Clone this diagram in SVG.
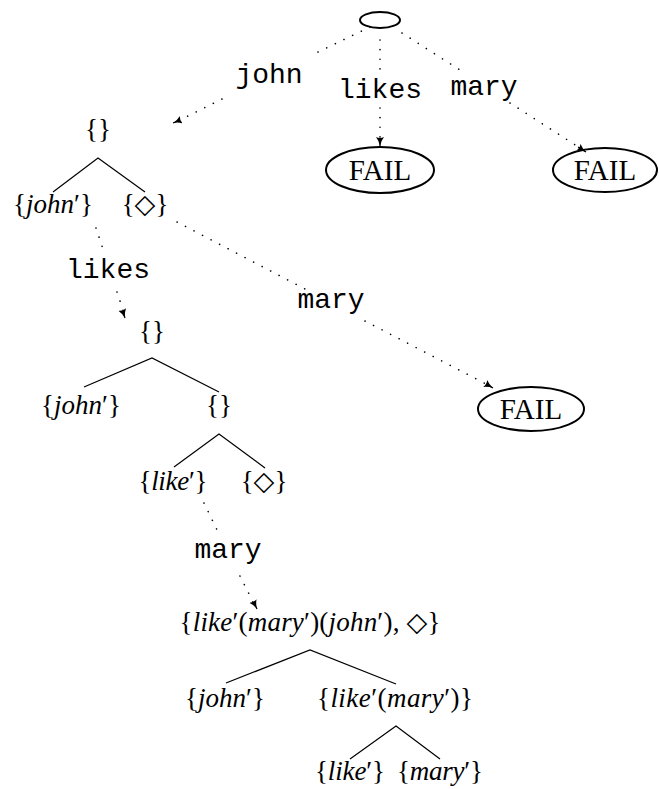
<svg xmlns="http://www.w3.org/2000/svg" width="659" height="789" viewBox="0 0 659 789">
<style>
.m{font-family:"Liberation Serif","DejaVu Serif",serif;font-size:27px;text-anchor:middle;fill:#000}
.i{font-style:italic}
.t{font-family:"Liberation Mono","DejaVu Sans Mono",monospace;font-size:28px;text-anchor:middle;fill:#000}
.f{font-family:"Liberation Serif",serif;font-size:29px;text-anchor:middle;fill:#000}
.e{fill:none;stroke:#000;stroke-width:2}
.s{fill:none;stroke:#000;stroke-width:1.2}
.d{fill:none;stroke:#000;stroke-width:1.6;stroke-dasharray:0.1 9.5;stroke-linecap:round}
.a{stroke:#000;stroke-width:1.2;marker-end:url(#ah)}
</style>
<defs>
<marker id="ah" markerWidth="12" markerHeight="10" refX="9" refY="4" orient="auto" markerUnits="userSpaceOnUse">
<path d="M0,0 Q4,3 9,4 Q4,5 0,8 Q2,4 0,0 Z" fill="#000"/>
</marker>
</defs>
<g id="connectors">
<path class="d" d="M370,27 L316,53"/>
<path class="d" d="M222,99 L180,120"/>
<line class="a" x1="178" y1="121" x2="173" y2="123"/>
<path class="d" d="M380,40 L380,72"/>
<path class="d" d="M380,108 L380,140"/>
<line class="a" x1="380" y1="140" x2="380" y2="146"/>
<path class="d" d="M402,33 L460,70"/>
<path class="d" d="M510,103 L580,148"/>
<line class="a" x1="578" y1="147" x2="586" y2="152"/>
<path class="s" d="M53,192 L98,158 L145,192"/>
<path class="d" d="M96,228 L104,252"/>
<path class="d" d="M117,292 L124,313"/>
<line class="a" x1="123" y1="312" x2="125" y2="318"/>
<path class="d" d="M177,222 L305,289"/>
<path class="d" d="M365,321 L486,384"/>
<line class="a" x1="486" y1="384" x2="493" y2="388"/>
<path class="s" d="M84,387 L152,358 L219,392"/>
<path class="s" d="M174,467 L219,434 L265,468"/>
<path class="d" d="M204,503 L218,532"/>
<path class="d" d="M240,576 L253,602"/>
<line class="a" x1="254" y1="603" x2="257" y2="609"/>
<path class="s" d="M226,683 L310,650 L396,684"/>
<path class="s" d="M350,759 L396,726 L440,759"/>
</g>
<g id="root"><ellipse class="e" cx="380" cy="20" rx="20" ry="8"/></g>
<g id="lbl-john"><text class="t" x="269" y="83">john</text></g>
<g id="lbl-likes1"><text class="t" x="380" y="98">likes</text></g>
<g id="lbl-mary1"><text class="t" x="484" y="95">mary</text></g>
<g id="fail1"><ellipse class="e" cx="380" cy="170" rx="54" ry="23"/><text class="f" x="380" y="180">FAIL</text></g>
<g id="fail2"><ellipse class="e" cx="605" cy="170" rx="52" ry="22"/><text class="f" x="605" y="180">FAIL</text></g>
<g id="n1"><text class="m" x="98" y="138">{}</text></g>
<g id="n1a"><text class="m" x="53" y="213" textLength="80">{<tspan class="i">john</tspan>′}</text></g>
<g id="n1b"><text class="m" x="145" y="213">{◇}</text></g>
<g id="lbl-likes2"><text class="t" x="108" y="278">likes</text></g>
<g id="lbl-mary2"><text class="t" x="331" y="308">mary</text></g>
<g id="fail3"><ellipse class="e" cx="531" cy="409" rx="53" ry="22"/><text class="f" x="531" y="419">FAIL</text></g>
<g id="n2"><text class="m" x="152" y="340">{}</text></g>
<g id="n2a"><text class="m" x="81" y="414" textLength="80">{<tspan class="i">john</tspan>′}</text></g>
<g id="n2b"><text class="m" x="219" y="414">{}</text></g>
<g id="n3a"><text class="m" x="173" y="490" textLength="69">{<tspan class="i">like</tspan>′}</text></g>
<g id="n3b"><text class="m" x="264" y="490">{◇}</text></g>
<g id="lbl-mary3"><text class="t" x="228" y="558">mary</text></g>
<g id="n4"><text class="m" x="310" y="631" textLength="261">{<tspan class="i">like</tspan>′(<tspan class="i">mary</tspan>′)(<tspan class="i">john</tspan>′), ◇}</text></g>
<g id="n4a"><text class="m" x="225" y="707" textLength="80">{<tspan class="i">john</tspan>′}</text></g>
<g id="n4b"><text class="m" x="395" y="707" textLength="156">{<tspan class="i">like</tspan>′(<tspan class="i">mary</tspan>′)}</text></g>
<g id="n5a"><text class="m" x="350" y="780" textLength="70">{<tspan class="i">like</tspan>′}</text></g>
<g id="n5b"><text class="m" x="440" y="780" textLength="86">{<tspan class="i">mary</tspan>′}</text></g>
</svg>
